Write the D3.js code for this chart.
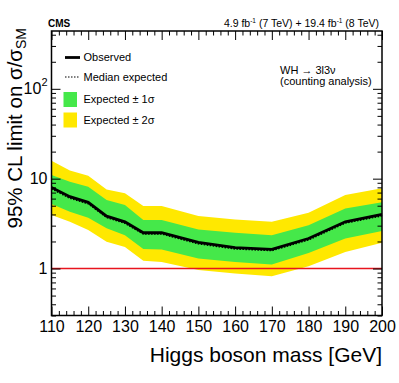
<!doctype html>
<html lang=en>
<head>
  <meta charset=utf-8>
  <title>WH limit</title>
  <style>
    html, body { margin: 0; background: #fff; }
    svg { display: block; font-family: "Liberation Sans", Arial, sans-serif; }
    .tick line { stroke: #000; }
  </style>
  <script src="https://cdn.jsdelivr.net/npm/d3@7"></script>
</head>
<body>
<div id=chart></div>
<script>
  const mass = [110, 115, 120, 125, 130, 135, 140, 150, 160, 170, 180, 190, 200]
  const observed = [8.0, 6.3, 5.45, 3.83, 3.31, 2.5, 2.5, 1.95, 1.71, 1.63, 2.16, 3.31, 4.0]
  const expected = [7.7, 6.05, 5.25, 3.7, 3.18, 2.42, 2.42, 1.88, 1.65, 1.58, 2.08, 3.2, 3.85]
  const plus1 = [11.0, 9.25, 8.14, 5.78, 5.09, 3.46, 3.46, 2.72, 2.5, 2.35, 3.04, 4.67, 5.45]
  const minus1 = [5.22, 4.28, 3.67, 2.8, 2.35, 1.65, 1.63, 1.29, 1.18, 1.11, 1.49, 2.16, 2.61]
  const plus2 = [15.8, 12.3, 10.8, 7.6, 6.87, 4.96, 4.96, 3.83, 3.52, 3.31, 4.17, 6.58, 7.81]
  const minus2 = [3.93, 3.31, 2.68, 1.98, 1.74, 1.22, 1.18, 0.96, 0.88, 0.82, 1.06, 1.53, 1.93]

  const xTicks = [110, 120, 130, 140, 150, 160, 170, 180, 190, 200]
  const yTicks = [1, 10, 100]
  const legendLabels = ['Observed', 'Median expected', 'Expected \u00b1 1\u03c3', 'Expected \u00b1 2\u03c3']

  const width = 399
  const height = 383
  const marginLeft = 51.5, marginRight = 382, marginTop = 31, marginBottom = 315.5

  const green = '#45e84a'
  const yellow = '#ffe800'

  const svg = d3.select('#chart').append('svg')
    .attr('width', width)
    .attr('height', height)

  const x = d3.scaleLinear().domain([110, 200]).range([marginLeft, marginRight])
  const y = d3.scaleLog().domain([0.3, 440]).range([marginBottom, marginTop])

  const rows = mass.map((m, i) => ({
    m, obs: observed[i], exp: expected[i],
    p1: plus1[i], m1: minus1[i], p2: plus2[i], m2: minus2[i]
  }))

  const plot = svg.append('g')

  plot.append('path')
    .datum(rows)
    .attr('fill', yellow)
    .attr('d', d3.area().x(d => x(d.m)).y0(d => y(d.m2)).y1(d => y(d.p2)))

  plot.append('path')
    .datum(rows)
    .attr('fill', green)
    .attr('d', d3.area().x(d => x(d.m)).y0(d => y(d.m1)).y1(d => y(d.p1)))

  plot.append('line')
    .attr('x1', x(110)).attr('x2', x(200))
    .attr('y1', y(1)).attr('y2', y(1))
    .attr('stroke', '#e8141e')
    .attr('stroke-width', 1.3)

  plot.append('path')
    .datum(rows)
    .attr('fill', 'none')
    .attr('stroke', '#000')
    .attr('stroke-width', 1.4)
    .attr('stroke-dasharray', '1.5,1.5')
    .attr('d', d3.line().x(d => x(d.m)).y(d => y(d.exp)))

  plot.append('path')
    .datum(rows)
    .attr('fill', 'none')
    .attr('stroke', '#000')
    .attr('stroke-width', 2.8)
    .attr('d', d3.line().x(d => x(d.m)).y(d => y(d.obs)))

  // minor tick positions
  const xMinor = d3.range(110, 201, 2).filter(v => v % 10 !== 0)
  const yMinor = []
  for (const dec of [0.1, 1, 10, 100]) {
    for (let k = 2; k <= 9; k++) {
      const v = k * dec
      if (v >= 0.3 && v <= 440) yMinor.push(v)
    }
  }

  function axis(gen, ticks, size, pos, fmt) {
    const g = svg.append('g')
      .attr('transform', pos)
      .call(gen.tickValues(ticks).tickSize(size).tickFormat(fmt || ''))
    g.select('.domain').remove()
    g.selectAll('.tick line').attr('stroke-width', 1)
    return g
  }

  // ticks point inward on all four sides
  const gx = axis(d3.axisBottom(x).tickPadding(5), xTicks, -9, `translate(0,${marginBottom})`, d3.format('d'))
  gx.selectAll('text').attr('font-size', 16).attr('fill', '#000').attr('font-family', 'Liberation Sans')
  axis(d3.axisBottom(x), xMinor, -4.5, `translate(0,${marginBottom})`)
  axis(d3.axisTop(x), xTicks, -9, `translate(0,${marginTop})`)
  axis(d3.axisTop(x), xMinor, -4.5, `translate(0,${marginTop})`)

  const gy = axis(d3.axisLeft(y).tickPadding(4), yTicks, -9, `translate(${marginLeft},0)`, d => d === 100 ? '' : d3.format('d')(d))
  gy.selectAll('text').attr('font-size', 16).attr('fill', '#000').attr('font-family', 'Liberation Sans')
  axis(d3.axisLeft(y), yMinor, -4.5, `translate(${marginLeft},0)`)
  axis(d3.axisRight(y), yTicks, -9, `translate(${marginRight},0)`)
  axis(d3.axisRight(y), yMinor, -4.5, `translate(${marginRight},0)`)

  const hundred = svg.append('text')
    .attr('x', marginLeft - 4)
    .attr('y', y(100))
    .attr('dy', '0.32em')
    .attr('text-anchor', 'end')
    .attr('font-size', 16)
  hundred.append('tspan').text('10')
  hundred.append('tspan').attr('font-size', 11).attr('dy', '-0.7em').text('2')

  svg.append('rect')
    .attr('x', marginLeft).attr('y', marginTop)
    .attr('width', marginRight - marginLeft).attr('height', marginBottom - marginTop)
    .attr('fill', 'none')
    .attr('stroke', '#000')
    .attr('stroke-width', 1.5)

  // titles
  svg.append('text')
    .attr('x', marginRight)
    .attr('y', 362)
    .attr('text-anchor', 'end')
    .attr('font-size', 21)
    .text('Higgs boson mass [GeV]')

  const yl = svg.append('text')
    .attr('transform', `translate(22,${marginTop - 3}) rotate(-90)`)
    .attr('text-anchor', 'end')
    .attr('font-size', 20.5)
  yl.append('tspan').text('95% CL limit on \u03c3/\u03c3')
  yl.append('tspan').attr('font-size', 14).attr('dy', '0.3em').text('SM')

  svg.append('text')
    .attr('x', 48).attr('y', 27)
    .attr('font-size', 10).attr('font-weight', 'bold')
    .text('CMS')

  const lumi = svg.append('text')
    .attr('x', 379).attr('y', 26.5)
    .attr('text-anchor', 'end')
    .attr('font-size', 10.5)
  lumi.append('tspan').text('4.9 fb')
  lumi.append('tspan').attr('font-size', 6.5).attr('dy', -4).text('-1')
  lumi.append('tspan').attr('dy', 4).text(' (7 TeV) + 19.4 fb')
  lumi.append('tspan').attr('font-size', 6.5).attr('dy', -4).text('-1')
  lumi.append('tspan').attr('dy', 4).text(' (8 TeV)')

  svg.append('text')
    .attr('x', 280).attr('y', 74)
    .attr('font-size', 11)
    .text('WH \u2192 3l3\u03bd')
  svg.append('text')
    .attr('x', 280).attr('y', 85)
    .attr('font-size', 11)
    .text('(counting analysis)')

  // legend
  const legendY = [57.5, 77, 99, 120]
  const lg = svg.append('g')
  lg.append('line')
    .attr('x1', 65).attr('x2', 80).attr('y1', legendY[0]).attr('y2', legendY[0])
    .attr('stroke', '#000').attr('stroke-width', 2.8)
  lg.append('line')
    .attr('x1', 65).attr('x2', 80).attr('y1', legendY[1]).attr('y2', legendY[1])
    .attr('stroke', '#000').attr('stroke-width', 1.2).attr('stroke-dasharray', '1.5,1.5')
  lg.append('rect')
    .attr('x', 63.5).attr('y', legendY[2] - 7).attr('width', 13.5).attr('height', 15)
    .attr('fill', green)
  lg.append('rect')
    .attr('x', 63.5).attr('y', legendY[3] - 7.5).attr('width', 13.5).attr('height', 15)
    .attr('fill', yellow)
  lg.selectAll('text.leg')
    .data(legendLabels)
    .enter()
    .append('text')
    .attr('class', 'leg')
    .attr('x', 83.5)
    .attr('y', (d, i) => legendY[i])
    .attr('dy', '0.35em')
    .attr('font-size', 11)
    .text(d => d)
</script>
</body>
</html>
